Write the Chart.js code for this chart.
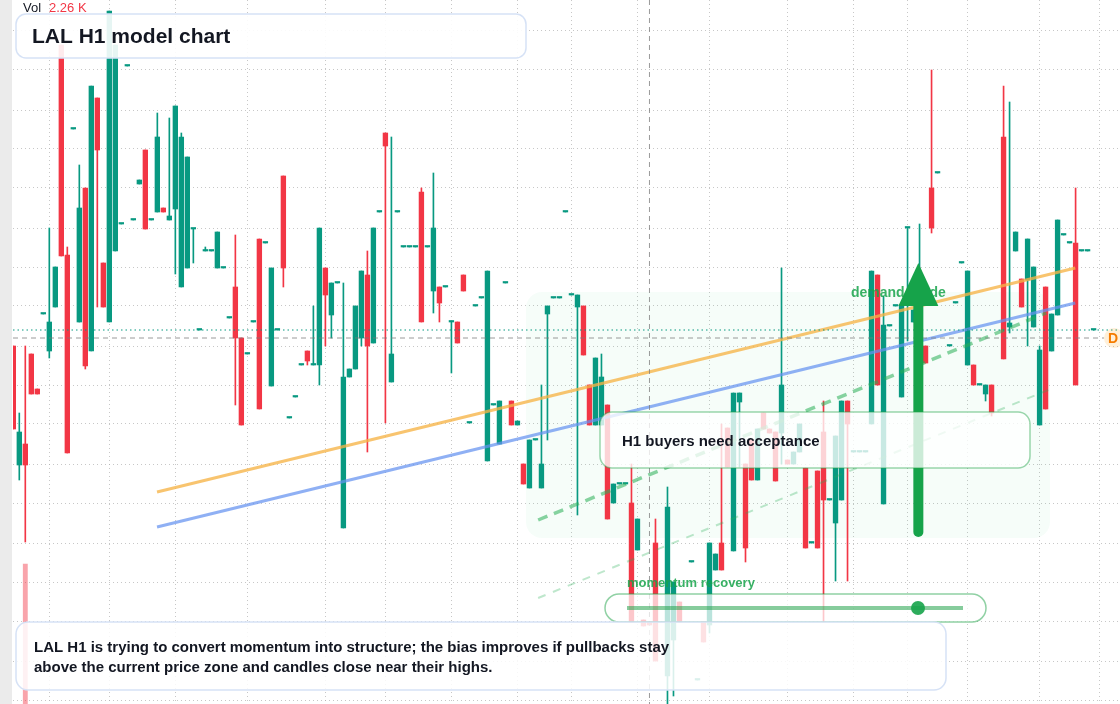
<!DOCTYPE html>
<html><head><meta charset="utf-8">
<script src="https://cdn.jsdelivr.net/npm/chart.js@4.4.1/dist/chart.umd.min.js"></script>
<style>html,body{margin:0;padding:0;background:#fff;overflow:hidden}#wrap{position:relative;width:1120px;height:704px}</style>
</head><body><div id="wrap"><canvas id="c" width="1120" height="704"></canvas></div>
<script>
const opens=[26.54,25.35,25.56,26.46,26.11,26.86,26.49,26.93,29.55,27.45,28.71,26.78,28.12,26.49,29.02,27.37,26.78,27.49,27.76,29.34,27.80,28.16,28.50,27.80,27.88,27.92,27.80,27.91,27.13,27.32,27.71,26.70,27.49,27.49,27.32,27.32,26.82,27.13,26.62,26.46,26.78,27.61,27.57,26.14,26.70,28.24,25.82,26.03,26.35,26.49,26.35,26.35,27.32,26.85,27.17,24.72,26.23,26.31,26.62,27.25,26.57,27.88,28.67,26.18,27.88,27.53,27.53,27.53,28.08,27.53,27.09,27.13,27.13,26.78,26.78,27.25,25.77,26.94,27.02,25.39,25.95,25.56,27.17,25.99,25.75,25.36,25.12,25.60,25.12,26.86,27.02,27.02,27.88,27.05,26.93,26.94,26.15,25.75,25.75,25.95,24.97,25.16,25.16,24.97,24.50,23.80,23.78,24.57,null,23.24,23.60,23.98,null,24.38,23.20,23.78,23.75,24.30,24.57,25.72,24.49,25.98,25.36,25.60,25.20,25.87,25.71,25.68,25.67,25.40,25.36,25.48,25.32,24.57,25.29,25.68,25.00,24.77,25.00,25.99,25.48,25.48,25.48,25.76,27.25,24.96,26.74,26.94,26.03,27.72,26.78,26.80,26.54,28.12,28.27,null,26.54,26.97,27.37,26.35,26.35,26.15,26.06,26.15,null,28.63,26.73,27.49,27.21,27.20,26.73,25.75,27.13,26.49,26.85,27.65,27.57,27.57,27.49,27.49,26.70];
const closes=[25.71,25.68,25.35,26.06,26.06,26.86,26.78,27.33,27.44,25.47,28.71,27.92,26.34,29.14,28.50,26.93,29.89,29.55,27.76,29.34,27.80,28.20,27.71,27.80,28.63,27.88,27.84,28.94,28.63,28.43,27.71,26.70,27.49,27.49,27.68,27.32,26.82,26.62,25.75,26.46,26.78,25.91,27.57,27.32,26.70,27.32,25.82,26.03,26.35,26.39,26.35,27.72,27.05,27.17,27.17,26.23,26.31,26.94,27.29,26.54,27.72,27.88,28.54,26.46,27.88,27.53,27.53,27.53,26.78,27.53,27.72,26.97,27.13,26.78,26.57,27.09,25.77,26.94,27.02,27.29,25.95,25.99,27.17,25.75,25.79,25.16,25.60,25.60,25.36,26.94,27.02,27.02,27.88,27.05,27.05,26.45,25.75,26.42,26.23,24.81,25.16,25.16,25.16,23.78,24.81,23.74,23.75,23.39,null,24.93,24.18,23.78,null,24.38,23.20,23.58,24.57,24.46,24.30,25.33,26.07,26.07,24.52,25.20,25.71,25.71,25.67,25.19,26.15,25.36,25.48,25.76,24.52,24.57,24.52,25.00,25.00,25.64,25.99,25.76,25.48,25.48,25.48,27.29,26.15,26.75,26.74,26.94,26.95,27.72,26.90,27.00,26.37,27.72,28.27,null,26.54,26.97,27.37,27.29,26.15,26.15,26.15,25.87,null,26.41,26.77,27.68,26.93,27.61,27.33,26.50,25.91,26.86,27.80,27.65,27.57,26.15,27.49,27.49,26.70];
const highs=[26.54,25.87,26.54,26.46,26.11,26.86,27.72,27.33,29.55,27.53,28.71,28.35,28.12,29.14,29.02,27.37,29.89,29.55,27.76,29.34,27.80,28.20,28.50,27.80,28.87,27.92,28.82,28.94,28.67,28.43,27.71,26.70,27.53,27.49,27.68,27.32,26.82,27.65,26.62,26.46,26.78,27.61,27.57,27.32,26.70,28.24,25.82,26.03,26.35,26.49,26.94,27.72,27.32,27.17,27.17,27.17,26.31,26.94,27.29,27.49,27.72,27.88,28.67,28.63,27.88,27.53,27.53,27.53,28.12,27.53,28.27,27.13,27.13,26.78,26.78,27.25,25.77,26.94,27.02,27.29,25.95,25.99,27.17,25.99,25.79,25.36,25.60,25.60,26.15,26.94,27.02,27.02,27.88,27.05,27.05,26.94,26.15,26.42,26.46,25.95,25.16,25.16,25.16,25.36,24.81,23.80,23.78,24.81,null,25.13,24.18,23.98,null,24.38,23.20,23.78,24.57,24.46,25.76,25.72,26.07,26.07,25.36,25.60,25.71,25.87,25.71,25.68,27.32,25.40,25.48,25.76,25.32,24.57,25.29,25.99,25.00,25.64,25.99,25.99,25.48,25.48,25.48,27.29,27.25,27.04,26.74,26.94,26.95,27.72,26.90,27.76,26.54,29.30,28.27,null,26.54,26.97,27.37,27.29,26.35,26.15,26.15,26.15,null,29.14,28.98,27.68,27.21,27.61,27.33,26.54,27.13,26.86,27.80,27.65,27.57,28.12,27.49,27.49,26.70];
const lows=[25.71,25.20,24.58,26.06,26.06,26.86,26.42,26.93,27.44,25.47,28.71,26.78,26.31,26.49,26.93,26.93,26.78,27.49,27.76,29.34,27.80,28.16,27.71,27.80,27.88,27.88,27.80,27.26,27.13,27.32,27.37,26.70,27.49,27.49,27.32,27.32,26.82,25.95,25.75,26.46,26.78,25.91,27.57,26.14,26.70,27.13,25.82,26.03,26.35,26.35,26.35,26.15,26.54,26.62,27.17,24.72,26.23,26.31,26.54,25.48,26.57,27.88,25.77,26.18,27.88,27.53,27.53,27.53,26.78,27.53,26.87,26.78,27.13,26.27,26.57,27.09,25.77,26.94,27.02,25.39,25.95,25.56,27.17,25.75,25.75,25.16,25.12,25.60,25.12,25.60,27.02,27.02,27.88,27.05,24.85,26.45,25.75,25.75,25.75,24.81,24.97,25.16,25.16,23.78,24.50,23.74,23.75,23.39,null,22.96,23.04,23.78,null,24.38,23.20,23.58,23.67,24.30,24.30,25.33,24.49,25.33,24.38,25.20,25.20,25.71,25.67,25.19,25.36,25.36,25.36,25.48,24.52,24.57,24.52,23.78,25.00,24.19,25.00,24.19,25.48,25.48,25.48,25.76,26.15,24.96,26.74,26.94,26.03,26.59,26.78,26.80,26.37,27.67,28.27,null,26.54,26.97,27.37,26.35,26.15,26.15,25.99,25.84,null,26.41,26.67,27.49,26.93,26.54,26.73,25.75,25.91,26.49,26.85,27.65,27.57,26.15,27.49,27.49,26.70];
const volumeIdx=[2];
const volumeK=[9.94];
const xGridIdx=[6,16,27,39,52,62,73,84,93,104,116,129,140,149,159,171,181];
const yGridVals=[23.00,23.39,23.79,24.18,24.57,24.97,25.36,25.76,26.15,26.54,26.94,27.33,27.72,28.12,28.51,28.90,29.30,29.69];
const trendOrange=[[23.95,25.08],[176.95,27.32]];
const trendBlue=[[23.95,24.73],[176.95,26.97]];
const guideThick=[[87.45,24.80],[172.1,26.87]];
const guideThin=[[87.45,24.02],[172.45,26.10]];
const lastPrice=26.70, crossPrice=26.62, crossIdx=106;
const arrowIdx=150.8, arrowBase=24.68, arrowTip=27.37;

const UP='#089981', DN='#f23645';
const bodies=[], wicks=[];
opens.forEach((o,i)=>{ if(o==null) return; bodies.push({x:i,y:[o,closes[i]]}); wicks.push({x:i,y:[lows[i],highs[i]]}); });
const vols=volumeIdx.map((v,k)=>({x:v,y:volumeK[k]}));
const col=ctx=>{const r=ctx.raw; if(!r) return UP; return closes[r.x]>=opens[r.x]?UP:DN;};
const pts=a=>a.map(p=>({x:p[0],y:p[1]}));

function rr(c,x,y,w,h,r){c.beginPath();c.moveTo(x+r,y);c.lineTo(x+w-r,y);c.arcTo(x+w,y,x+w,y+r,r);c.lineTo(x+w,y+h-r);c.arcTo(x+w,y+h,x+w-r,y+h,r);c.lineTo(x+r,y+h);c.arcTo(x,y+h,x,y+h-r,r);c.lineTo(x,y+r);c.arcTo(x,y,x+r,y,r);c.closePath();}
const F='"Liberation Sans", Arial, sans-serif';
const INK='#131722';

const deco={
 id:'deco',
 beforeDraw(ch){const c=ch.ctx;c.save();c.fillStyle='#fff';c.fillRect(0,0,1120,704);c.fillStyle='#ebebeb';c.fillRect(0,0,12,704);c.restore();},
 beforeDatasetsDraw(ch){const c=ch.ctx;c.save();rr(c,526,292,524,246,16);c.fillStyle='rgba(34,197,94,0.04)';c.fill();c.restore();},
 afterDatasetsDraw(ch){
  const c=ch.ctx,xs=ch.scales.x,ys=ch.scales.y;c.save();
  const yl=ys.getPixelForValue(lastPrice);
  c.strokeStyle='#089981';c.lineWidth=1;c.setLineDash([1.5,3]);c.beginPath();c.moveTo(13,yl);c.lineTo(1120,yl);c.stroke();
  const yc=ys.getPixelForValue(crossPrice);
  c.strokeStyle='rgba(120,120,120,0.75)';c.setLineDash([5,4]);c.beginPath();c.moveTo(13,yc);c.lineTo(1104,yc);c.stroke();
  const xc=xs.getPixelForValue(crossIdx);
  c.beginPath();c.moveTo(xc,0);c.lineTo(xc,704);c.stroke();
  c.setLineDash([]);
  rr(c,16,14,510,44,10);c.fillStyle='rgba(255,255,255,0.9)';c.fill();c.strokeStyle='#d6e2f6';c.lineWidth=1.5;c.stroke();
  c.fillStyle=INK;c.font='bold 21px '+F;c.textBaseline='middle';c.fillText('LAL H1 model chart',32,37);
  c.font='13px '+F;c.fillStyle=INK;c.fillText('Vol',23,8);c.fillStyle='#f23645';c.fillText('2.26 K',49,8);
  c.font='bold 14px '+F;c.fillStyle='rgba(22,163,74,0.85)';c.fillText('demand guide',851,293);
  const ax=xs.getPixelForValue(arrowIdx),yb=ys.getPixelForValue(arrowBase),yt=ys.getPixelForValue(arrowTip);
  c.strokeStyle='#16a34a';c.lineWidth=10;c.lineCap='round';c.beginPath();c.moveTo(ax,yb);c.lineTo(ax,yt+38);c.stroke();
  c.fillStyle='#16a34a';c.beginPath();c.moveTo(ax,yt);c.lineTo(ax-20,yt+43);c.lineTo(ax+20,yt+43);c.closePath();c.fill();
  c.lineCap='butt';
  rr(c,600,412,430,56,12);c.fillStyle='rgba(255,255,255,0.78)';c.fill();c.strokeStyle='rgba(34,163,74,0.45)';c.lineWidth=1.5;c.stroke();
  c.fillStyle=INK;c.font='bold 15px '+F;c.fillText('H1 buyers need acceptance',622,442);
  c.font='bold 13px '+F;c.fillStyle='rgba(22,163,74,0.85)';c.fillText('momentum recovery',627,583);
  rr(c,605,594,381,28,14);c.fillStyle='rgba(255,255,255,0.72)';c.fill();c.strokeStyle='rgba(34,163,74,0.5)';c.lineWidth=1.5;c.stroke();
  c.strokeStyle='rgba(34,163,74,0.55)';c.lineWidth=4;c.beginPath();c.moveTo(627,608);c.lineTo(963,608);c.stroke();
  c.fillStyle='rgba(22,163,74,0.9)';c.beginPath();c.arc(918,608,7,0,Math.PI*2);c.fill();
  rr(c,16,622,930,68,12);c.fillStyle='rgba(255,255,255,0.85)';c.fill();c.strokeStyle='#d6e2f6';c.lineWidth=1.5;c.stroke();
  c.fillStyle=INK;c.font='bold 15px '+F;
  c.fillText('LAL H1 is trying to convert momentum into structure; the bias improves if pullbacks stay',34,648);
  c.fillText('above the current price zone and candles close near their highs.',34,668);
  c.fillStyle='rgba(255,152,0,0.15)';c.beginPath();c.arc(1114,yc,10,0,Math.PI*2);c.fill();
  c.fillStyle='#f57c00';c.font='bold 14px '+F;c.fillText('D',1108,yc+1);
  c.restore();
 }
};

new Chart(document.getElementById('c'),{
 type:'bar',
 data:{datasets:[
  {type:'line',data:pts(trendOrange),borderColor:'rgba(246,180,70,0.78)',borderWidth:3,pointRadius:0,order:0},
  {type:'line',data:pts(trendBlue),borderColor:'rgba(100,145,240,0.72)',borderWidth:3,pointRadius:0,order:0},
  {type:'line',data:pts(guideThick),borderColor:'rgba(40,175,85,0.55)',borderWidth:3.5,borderDash:[10,7],pointRadius:0,order:0},
  {type:'line',data:pts(guideThin),borderColor:'rgba(40,175,85,0.3)',borderWidth:2,borderDash:[8,8],pointRadius:0,order:0},
  {data:bodies,backgroundColor:col,barThickness:4.7,minBarLength:1.5,grouped:false,borderWidth:0,order:1},
  {data:wicks,backgroundColor:col,barThickness:1,grouped:false,borderWidth:0,order:2},
  {data:vols,yAxisID:'yv',backgroundColor:'rgba(242,54,69,0.45)',barThickness:4.2,grouped:false,borderWidth:0,order:3}
 ]},
 options:{
  responsive:false,animation:false,events:[],
  layout:{padding:{left:13,right:0,top:0,bottom:0}},
  plugins:{legend:{display:false},tooltip:{enabled:false}},
  scales:{
   x:{type:'linear',min:-0.05,max:184.4,offset:false,
      afterBuildTicks:s=>{s.ticks=xGridIdx.map(v=>({value:v}));},
      ticks:{display:false},grid:{color:'rgba(175,175,175,0.7)',drawTicks:false,offset:false},border:{display:false,dash:[1,3]}},
   y:{min:22.96,max:30,
      afterBuildTicks:s=>{s.ticks=yGridVals.map(v=>({value:v}));},
      ticks:{display:false},grid:{color:'rgba(175,175,175,0.7)',drawTicks:false},border:{display:false,dash:[1,3]}},
   yv:{min:0,max:50,display:false}
  }
 },
 plugins:[deco]
});
</script></body></html>
